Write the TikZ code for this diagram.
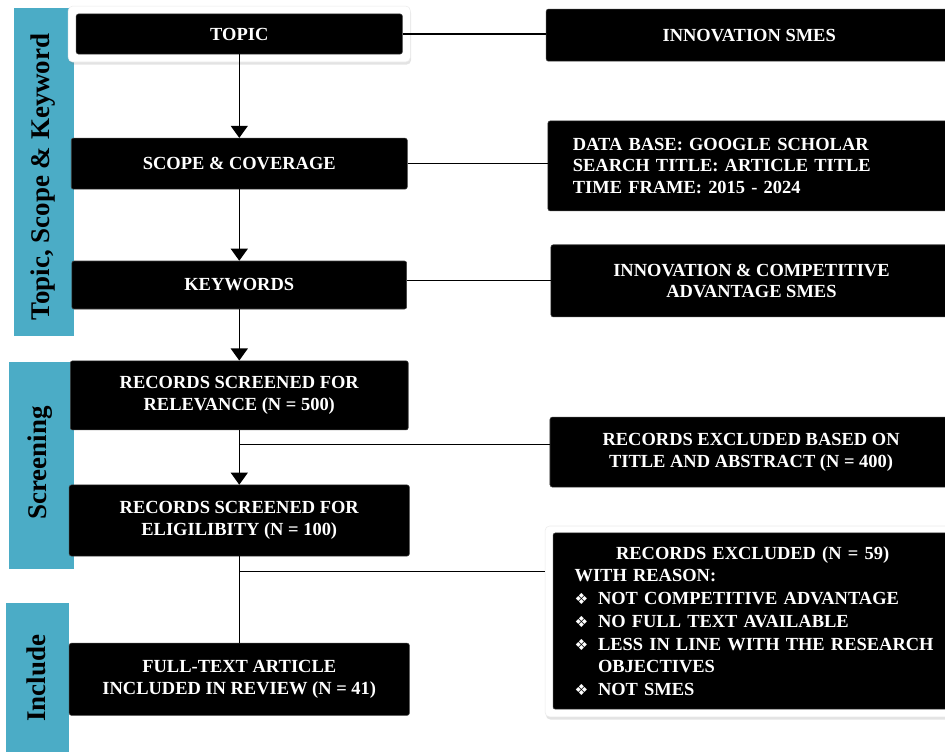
\documentclass[tikz,border=0pt]{standalone}
\usepackage{fontspec}
\setmainfont{Liberation Serif}
\newfontfamily\symfont{DejaVu Sans}
\usepackage{tikz}
\usetikzlibrary{arrows.meta,shadows}

\definecolor{bandblue}{RGB}{75,172,198}
\newcommand{\dbullet}{\makebox[6.2mm][l]{\symfont\fontsize{11.5}{12}\selectfont\char"2756}}

\tikzset{
	box/.style={fill=black, draw=black!75, rounded corners=0.6mm, text=white, align=center, inner sep=0pt,
		font=\bfseries\fontsize{13.9}{16.3}\selectfont},
	frame/.style={fill=white, draw=black!8, rounded corners=1.2mm,
		drop shadow={shadow xshift=0.2mm, shadow yshift=-0.7mm, opacity=0.22}},
	band/.style={fill=bandblue},
	bandtext/.style={rotate=90, font=\bfseries\fontsize{20.3}{24}\selectfont},
}

\begin{document}
\begin{tikzpicture}[>={Triangle[length=3.2mm,width=4.5mm]}]
			\useasboundingbox (0,0) rectangle (250mm,-198.7mm);
			
			% phases on the left
			\fill[band] (3.7mm,-2.1mm) rectangle (19.6mm,-88.9mm);
			\fill[band] (2.4mm,-95.8mm) rectangle (19.6mm,-150.6mm);
			\fill[band] (1.6mm,-159.5mm) rectangle (18.3mm,-199mm);
			\node[bandtext] (phtopic) at (11.4mm,-46.8mm) {Topic, Scope \& Keyword};
			\node[bandtext] (phscreen) at (10.7mm,-122.5mm) {Screening};
			\node[bandtext] (phinclude) at (9.5mm,-179.4mm) {Include};
			
			% main column
			\node[frame, minimum width=90.5mm, minimum height=14.8mm] (topicframe) at (63.3mm,-9.0mm) {};
			\node[box, minimum width=86.3mm, minimum height=10.6mm] (topic) at (63.3mm,-9.0mm) {TOPIC};
			\node[box, minimum width=88.9mm, minimum height=13.5mm] (scope) at (63.3mm,-43.3mm) {SCOPE \& COVERAGE};
			\node[box, minimum width=88.6mm, minimum height=12.7mm] (kw) at (63.3mm,-75.4mm) {KEYWORDS};
			\node[box, minimum width=89.4mm, minimum height=18.3mm] (rel) at (63.3mm,-104.6mm) {RECORDS SCREENED FOR\\RELEVANCE (N = 500)};
			\node[box, minimum width=90mm, minimum height=18.8mm] (elig) at (63.3mm,-137.7mm) {RECORDS SCREENED FOR\\ELIGILIBITY (N = 100)};
			\node[box, minimum width=90mm, minimum height=19.1mm] (full) at (63.3mm,-179.7mm) {FULL-TEXT ARTICLE\\INCLUDED IN REVIEW (N = 41)};
			
			% notes on the right
			\node[box, minimum width=107.4mm, minimum height=13.8mm] (innov) at (198.2mm,-9.3mm) {INNOVATION SMES};
			\node[box, minimum width=106.9mm, minimum height=23.8mm, text width=93.7mm, align=left] (dbase) at (198.4mm,-43.9mm)
			{DATA BASE: GOOGLE SCHOLAR\\SEARCH TITLE: ARTICLE TITLE\\TIME FRAME: 2015 - 2024};
			\node[box, minimum width=106.1mm, minimum height=19.1mm] (kwnote) at (198.8mm,-74.3mm) {INNOVATION \& COMPETITIVE\\ADVANTAGE SMES};
			\node[box, minimum width=106.4mm, minimum height=18.5mm] (exclA) at (198.7mm,-119.6mm) {RECORDS EXCLUDED BASED ON\\TITLE AND ABSTRACT (N = 400)};
			\node[frame, minimum width=109.8mm, minimum height=50.5mm] (exclframe) at (199.1mm,-164.4mm) {};
			\node[box, minimum width=105.6mm, minimum height=46.6mm, text width=94.2mm, align=left,
				font=\bfseries\fontsize{13.9}{17.1}\selectfont] (exclB) at (199.1mm,-164.3mm)
			{\makebox[\linewidth][c]{RECORDS EXCLUDED (N = 59)}\\
				\mbox{WITH REASON:}\\
				\mbox{\dbullet NOT COMPETITIVE ADVANTAGE}\\
				\mbox{\dbullet NO FULL TEXT AVAILABLE}\\
				\mbox{\dbullet LESS IN LINE WITH THE RESEARCH}\\
				\mbox{\hspace*{6.2mm}OBJECTIVES}\\
				\mbox{\dbullet NOT SMES}};
			
			% flow
			\draw[->, line width=1pt] (topic) -- (scope);
			\draw[->, line width=1pt] (scope) -- (kw);
			\draw[->, line width=1pt] (kw) -- (rel);
			\draw[->, line width=1pt] (rel) -- (elig);
			\draw[line width=1pt] (elig) -- (full);
			
			\draw[thick] (topic.east) -- (topic.east -| innov.west);
			\draw[thick] (scope.east) -- (scope.east -| dbase.west);
			\draw[thick] (kwnote.west) -- (kwnote.west -| kw.east);
			\coordinate (splitA) at (63.3mm,-117.5mm);
			\coordinate (splitB) at (63.3mm,-151.3mm);
			\draw[thick] (splitA) -- (splitA -| exclA.west);
			\draw[thick] (splitB) -- (splitB -| exclframe.west);
		\end{tikzpicture}
\end{document}
